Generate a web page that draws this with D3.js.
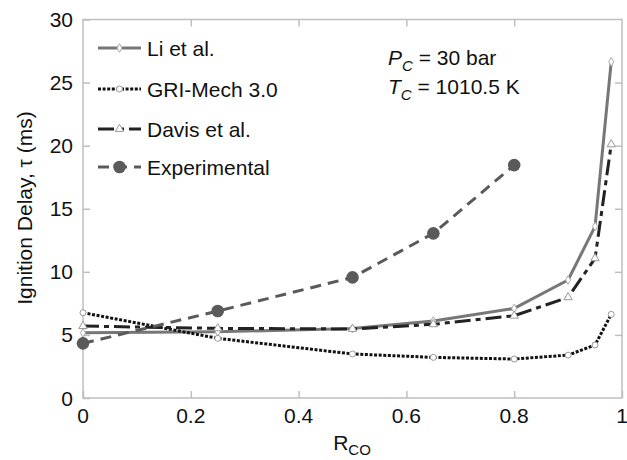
<!DOCTYPE html>
<html>
<head>
<meta charset="utf-8">
<script src="https://cdn.jsdelivr.net/npm/d3@7/dist/d3.min.js"></script>
<style>
  html, body { margin: 0; padding: 0; background: #fff; }
  svg { display: block; font-family: "Liberation Sans", Arial, sans-serif; }
</style>
</head>
<body>
<svg id="chart" width="627" height="460"></svg>
<script>
// Ignition delay vs CO fraction
const rcoModel = [0, 0.25, 0.5, 0.65, 0.8, 0.9, 0.95, 0.98];
const liValues = [5.17, 5.25, 5.5, 6.1, 7.1, 9.35, 13.6, 26.65];
const griValues = [6.76, 4.73, 3.49, 3.22, 3.09, 3.4, 4.2, 6.63];
const davisValues = [5.7, 5.52, 5.47, 5.84, 6.52, 7.98, 11.07, 20.1];
const rcoExp = [0, 0.25, 0.5, 0.65, 0.8];
const expValues = [4.33, 6.89, 9.56, 13.05, 18.46];

const xTicks = [0, 0.2, 0.4, 0.6, 0.8, 1];
const xTickLabels = ["0", "0.2", "0.4", "0.6", "0.8", "1"];
const yTicks = [0, 5, 10, 15, 20, 25, 30];
const yTickLabels = ["0", "5", "10", "15", "20", "25", "30"];

const legendNames = ["Li et al.", "GRI-Mech 3.0", "Davis et al.", "Experimental"];

const svg = d3.select("#chart");
const plotLeft = 83, plotRight = 622, plotTop = 19.5, plotBottom = 398;

const x = d3.scaleLinear().domain([0, 1]).range([plotLeft, plotRight]);
const y = d3.scaleLinear().domain([0, 30]).range([plotBottom, plotTop]);

const axisColor = "#bfbfbf";
const fontSize = 21;

// Frame with inward ticks on all four sides
const axes = svg.append("g");
function styleAxis(g) {
  g.select(".domain").remove();
  g.selectAll(".tick line").attr("stroke", axisColor).attr("stroke-width", 1.5);
  g.selectAll(".tick text").remove();
}
axes.append("g").attr("transform", `translate(0,${plotBottom})`)
  .call(d3.axisBottom(x).tickValues(xTicks).tickSizeInner(-7).tickSizeOuter(0)).call(styleAxis);
axes.append("g").attr("transform", `translate(0,${plotTop})`)
  .call(d3.axisTop(x).tickValues(xTicks.slice(1, -1)).tickSizeInner(-7).tickSizeOuter(0)).call(styleAxis);
axes.append("g").attr("transform", `translate(${plotLeft},0)`)
  .call(d3.axisLeft(y).tickValues(yTicks).tickSizeInner(-7).tickSizeOuter(0)).call(styleAxis);
axes.append("g").attr("transform", `translate(${plotRight},0)`)
  .call(d3.axisRight(y).tickValues(yTicks.slice(1, -1)).tickSizeInner(-7).tickSizeOuter(0)).call(styleAxis);
axes.append("rect")
  .attr("x", plotLeft).attr("y", plotTop)
  .attr("width", plotRight - plotLeft).attr("height", plotBottom - plotTop)
  .attr("fill", "none").attr("stroke", axisColor).attr("stroke-width", 1.5);

// Tick labels
svg.append("g").selectAll("text").data(xTicks).join("text")
  .attr("x", d => x(d)).attr("y", plotBottom + 25)
  .attr("text-anchor", "middle").attr("font-size", fontSize).attr("fill", "#111")
  .text((d, i) => xTickLabels[i]);
svg.append("g").selectAll("text").data(yTicks).join("text")
  .attr("x", plotLeft - 10).attr("y", d => y(d) + 7.5)
  .attr("text-anchor", "end").attr("font-size", fontSize).attr("fill", "#111")
  .text((d, i) => yTickLabels[i]);

// Axis titles
const xt = svg.append("text").attr("x", 352).attr("y", 450)
  .attr("text-anchor", "middle").attr("font-size", fontSize).attr("fill", "#111");
xt.append("tspan").text("R");
xt.append("tspan").attr("font-size", 15).attr("dy", 5).text("CO");

svg.append("text")
  .attr("transform", "translate(32,208) rotate(-90)")
  .attr("text-anchor", "middle").attr("font-size", fontSize).attr("fill", "#111")
  .text("Ignition Delay, τ (ms)");

// Conditions annotation
const ann = svg.append("g").attr("font-size", fontSize).attr("fill", "#111");
const p = ann.append("text").attr("x", 388).attr("y", 65);
p.append("tspan").attr("font-style", "italic").text("P");
p.append("tspan").attr("font-style", "italic").attr("font-size", 15).attr("dy", 6).text("C");
p.append("tspan").attr("dy", -6).text(" = 30 bar");
const t = ann.append("text").attr("x", 388).attr("y", 94);
t.append("tspan").attr("font-style", "italic").text("T");
t.append("tspan").attr("font-style", "italic").attr("font-size", 15).attr("dy", 6).text("C");
t.append("tspan").attr("dy", -6).text(" = 1010.5 K");

// Series
const series = [
  { name: legendNames[0], xs: rcoModel, ys: liValues, color: "#777777", width: 3, dash: null, marker: "diamond" },
  { name: legendNames[1], xs: rcoModel, ys: griValues, color: "#111111", width: 3, dash: "3,1.6", marker: "circle" },
  { name: legendNames[2], xs: rcoModel, ys: davisValues, color: "#222222", width: 3, dash: "16,5,5,5", marker: "triangle" },
  { name: legendNames[3], xs: rcoExp, ys: expValues, color: "#5a5a5a", width: 3, dash: "11,7", marker: "dot" }
];

const line = d3.line();

function drawMarker(g, type, cx, cy) {
  if (type === "diamond") {
    g.append("path").attr("d", d3.symbol(d3.symbolDiamond, 22)())
      .attr("transform", `translate(${cx},${cy})`)
      .attr("fill", "#fff").attr("stroke", "#aaa").attr("stroke-width", 1);
  } else if (type === "circle") {
    g.append("circle").attr("cx", cx).attr("cy", cy).attr("r", 3)
      .attr("fill", "#fff").attr("stroke", "#999").attr("stroke-width", 1);
  } else if (type === "triangle") {
    g.append("path").attr("d", d3.symbol(d3.symbolTriangle, 30)())
      .attr("transform", `translate(${cx},${cy})`)
      .attr("fill", "#fff").attr("stroke", "#999").attr("stroke-width", 1);
  } else {
    g.append("circle").attr("cx", cx).attr("cy", cy).attr("r", 6.3)
      .attr("fill", "#5a5a5a").attr("stroke", "none");
  }
}

const plot = svg.append("g");
series.forEach(s => {
  const pts = s.xs.map((v, i) => [x(v), y(s.ys[i])]);
  plot.append("path").attr("d", line(pts))
    .attr("fill", "none").attr("stroke", s.color).attr("stroke-width", s.width)
    .attr("stroke-dasharray", s.dash).attr("stroke-linejoin", "round");
});
series.forEach(s => {
  const g = plot.append("g");
  s.xs.forEach((v, i) => drawMarker(g, s.marker, x(v), y(s.ys[i])));
});

// Legend
const legendY = [48, 89, 129, 167];
const legend = svg.append("g");
series.forEach((s, i) => {
  const ly = legendY[i];
  legend.append("line").attr("x1", 98).attr("x2", 141).attr("y1", ly).attr("y2", ly)
    .attr("stroke", s.color).attr("stroke-width", s.width).attr("stroke-dasharray", s.dash);
  drawMarker(legend, s.marker, 119.5, ly);
  legend.append("text").attr("x", 147).attr("y", ly + 7.5)
    .attr("font-size", fontSize).attr("fill", "#111").text(s.name);
});
</script>
</body>
</html>
